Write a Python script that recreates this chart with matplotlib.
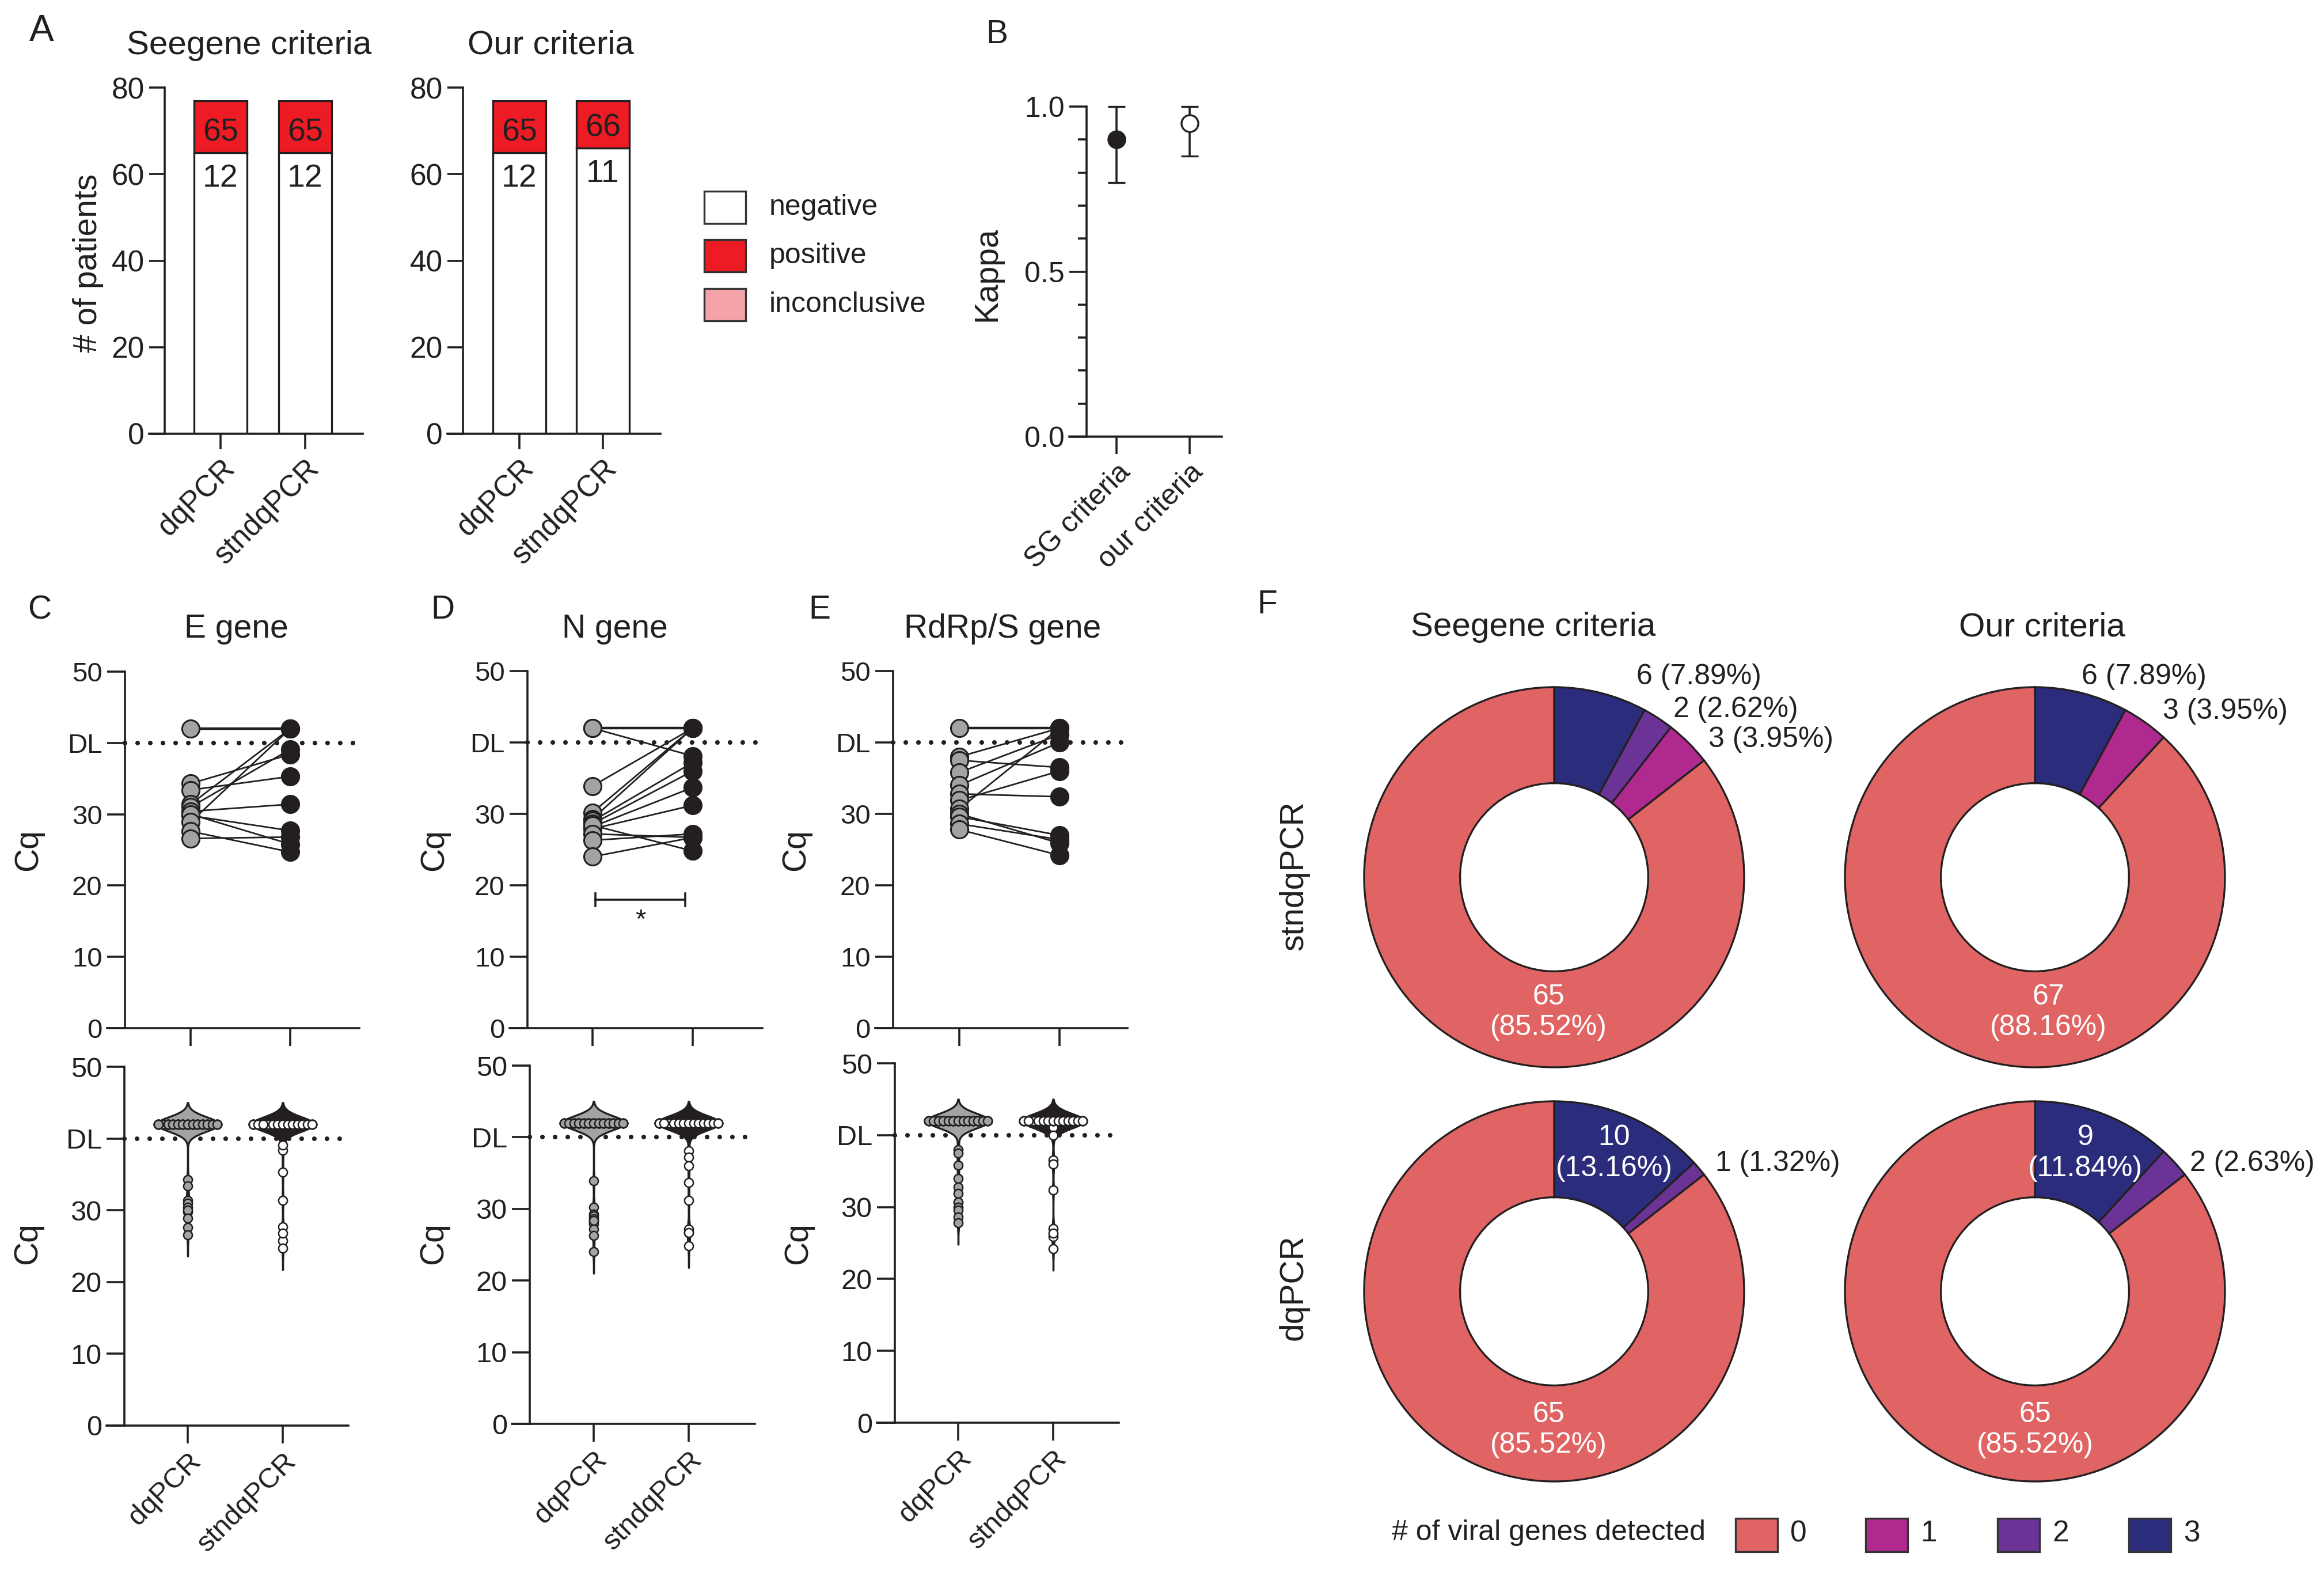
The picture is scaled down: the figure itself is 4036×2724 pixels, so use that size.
import numpy as np
import matplotlib.pyplot as plt
from matplotlib.patches import Rectangle
from matplotlib.ticker import MultipleLocator

plt.rcParams['font.family'] = ['Liberation Sans', 'DejaVu Sans']
INK = '#231F20'
plt.rcParams['text.color'] = INK
plt.rcParams['axes.edgecolor'] = INK
plt.rcParams['xtick.color'] = INK
plt.rcParams['ytick.color'] = INK

W, H = 4037, 2724
PT = 0.72  # points per pixel at dpi 100

# ---------------- data ----------------
methods = ['dqPCR', 'stndqPCR']
# panel A: height of white part and red part of each bar
sg_white = [65, 65]
sg_red = [12, 12]
our_white = [65, 66]
our_red = [12, 11]
result_labels = ['negative', 'positive', 'inconclusive']
result_colors = ['white', '#ED1C24', '#F4A3A8']

# panel B
kappa_groups = ['SG criteria', 'our criteria']
kappa = [0.90, 0.95]
kappa_lo = [0.77, 0.85]
kappa_hi = [1.00, 1.00]

# panels C-E: Cq per patient (42 = not detected, plotted above DL)
n_patients = 76
cq_dl = 40
cq_nd = 42
e_dq = [42, 34.3, 33.4, 31.4, 31.0, 30.4, 29.8, 30.0, 28.9, 27.6, 26.6]
e_st = [42, 38.4, 35.3, 42, 39.1, 31.4, 27.7, 25.8, 42, 24.7, 26.8]
n_dq = [42, 42, 33.9, 30.2, 29.3, 29.0, 28.6, 28.2, 27.9, 28.4, 27.2, 26.3, 24.0]
n_st = [42, 38.1, 42, 42, 42, 37.2, 36.0, 33.7, 31.2, 24.8, 26.7, 27.2, 26.7]
r_dq = [42, 38.0, 37.5, 35.8, 34.0, 32.8, 31.9, 30.7, 30.0, 29.6, 28.6, 27.8]
r_st = [42, 42, 36.5, 41.1, 40.0, 32.4, 36.0, 42, 25.9, 27.0, 26.4, 24.2]
gene_titles = ['E gene', 'N gene', 'RdRp/S gene']

# panel F: patients by number of viral genes detected (order 3, 2, 1, 0 genes)
gene_cats = ['3', '2', '1', '0']
gene_colors = ['#2B2D7C', '#6B3396', '#B0298F', '#E06464']
sg_st = [6, 2, 3, 65]
sg_st_pct = ['7.89', '2.62', '3.95', '85.52']
our_st = [6, 0, 3, 67]
our_st_pct = ['7.89', '', '3.95', '88.16']
sg_dq = [10, 1, 0, 65]
sg_dq_pct = ['13.16', '1.32', '', '85.52']
our_dq = [9, 2, 0, 65]
our_dq_pct = ['11.84', '2.63', '', '85.52']

fig = plt.figure(figsize=(W / 100, H / 100), dpi=100)


def px_axes(left, right, top, bottom):
    return fig.add_axes([left / W, 1 - bottom / H, (right - left) / W, (bottom - top) / H])


def gp_axes(spine_x, x_end, y_top, y_bot, tick0, tick1, ticklen, labelsize=35):
    ax = px_axes(spine_x - ticklen, x_end, y_top, y_bot)
    unit = tick1 - tick0
    ax.set_xlim((spine_x - ticklen - tick0) / unit, (x_end - tick0) / unit)
    ax.spines['left'].set_position(('data', (spine_x - tick0) / unit))
    ax.spines[['top', 'right']].set_visible(False)
    for s in ['left', 'bottom']:
        ax.spines[s].set_linewidth(2.6)
    ax.tick_params(width=2.6, length=ticklen * PT, labelsize=labelsize, pad=6)
    ax.set_xticks([0, 1])
    ax.patch.set_alpha(0)
    return ax, (spine_x - tick0) / unit


def ftext(x, y, s, **kw):
    fig.text(x / W, 1 - y / H, s, **kw)


def rot_labels(ax, labels):
    ax.set_xticklabels(labels, rotation=45, ha='right', rotation_mode='anchor')


# ---------------- panel A ----------------
for (sx, xe, t0, t1, white, red, title, tx) in [
        (286, 630, 383, 530, sg_white, sg_red, 'Seegene criteria', 433),
        (804, 1147, 902, 1047, our_white, our_red, 'Our criteria', 956)]:
    ax, _ = gp_axes(sx, xe, 152, 753, t0, t1, 27, labelsize=37)
    x = np.arange(len(methods))
    ax.bar(x, white, width=0.63, color='white', edgecolor=INK, lw=2.4)
    ax.bar(x, red, bottom=white, width=0.63, color=result_colors[1], edgecolor=INK, lw=2.4)
    for i in x:
        ax.text(i, white[i] + 4.6, str(white[i]), ha='center', va='center', fontsize=40)
        ax.text(i, white[i] - 6, str(red[i]), ha='center', va='center', fontsize=40)
    ax.set_ylim(0, 80)
    ax.set_yticks([0, 20, 40, 60, 80])
    rot_labels(ax, methods)
    ftext(tx, 79, title, ha='center', va='center', fontsize=42)

ftext(153, 457, '# of patients', rotation=90, ha='center', va='center', fontsize=41)
for i, (lab, col) in enumerate(zip(result_labels, result_colors)):
    yc = [360, 444, 529][i]
    fig.patches.append(Rectangle((1223 / W, 1 - (yc + 28) / H), 72 / W, 56 / H,
                                 transform=fig.transFigure, facecolor=col,
                                 edgecolor='#333333', lw=2.4))
    ftext(1336, yc, lab, ha='left', va='center', fontsize=36)

# ---------------- panel B ----------------
ax, _ = gp_axes(1887, 2122, 185, 758, 1939, 2066, 30, labelsize=36)
for i in range(len(kappa)):
    ax.errorbar(i, kappa[i], yerr=[[kappa[i] - kappa_lo[i]], [kappa_hi[i] - kappa[i]]],
                fmt='o', ms=21, mfc=INK if i == 0 else 'white', mec=INK, mew=2.4,
                ecolor=INK, elinewidth=2.6, capsize=11, capthick=2.6, clip_on=False, zorder=3)
ax.set_ylim(0, 1.0)
ax.set_yticks([0, 0.5, 1.0])
ax.set_yticklabels(['0.0', '0.5', '1.0'])
ax.yaxis.set_minor_locator(MultipleLocator(0.1))
ax.tick_params(axis='y', which='minor', length=15 * PT, width=2.6)
rot_labels(ax, kappa_groups)
ftext(1714, 476, 'Kappa', rotation=90, ha='center', va='center', fontsize=41)


# ---------------- panels C-E ----------------
def cq_axis(ax, spine_d, xmax):
    ax.set_ylim(0, 50)
    ax.set_yticks([0, 10, 20, 30, 40, 50])
    ax.set_yticklabels(['0', '10', '20', '30', 'DL', '50'])
    ax.plot([spine_d, xmax], [cq_dl, cq_dl], color=INK, lw=5.8, ls=(0, (0.01, 2.72)),
            dash_capstyle='round', clip_on=False, zorder=1)


def full(vals):
    low = [v for v in vals if v < cq_nd]
    return low + [cq_nd] * (n_patients - len(low))


def violin(ax, x, vals, face, dot_face):
    v = np.array(vals, float)
    h = 1.0
    ys = np.linspace(v.min() - 3 * h, v.max() + 3 * h, 800)
    dens = np.exp(-0.5 * ((ys[:, None] - v[None, :]) / h) ** 2).sum(1)
    half = dens / dens.max() * 0.33
    ax.fill_betweenx(ys, x - half, x + half, facecolor=face, edgecolor=INK, lw=2.4, zorder=2)
    low = v[v < cq_nd]
    ax.scatter(np.full(len(low), x), low, s=120, c=dot_face, edgecolors=INK, lw=1.8, zorder=3)
    n_top = int((v >= cq_nd).sum())
    offs = np.linspace(-0.31, 0.31, 13)
    ax.scatter(x + offs[np.arange(n_top) % 13], np.full(n_top, cq_nd), s=120, c=dot_face,
               edgecolors=INK, lw=1.8, zorder=3)


top_geo = [(217, 624, 1166, 1785, 331, 504), (916, 1324, 1165, 1785, 1029, 1203),
           (1551, 1958, 1165, 1785, 1666, 1840)]
bot_geo = [(216, 605, 1852, 2475, 326, 491), (920, 1311, 1850, 2472, 1031, 1196),
           (1554, 1943, 1846, 2470, 1664, 1829)]
title_x = [410, 1068, 1741]
cq_x_top = [49, 754, 1382]
cq_x_bot = [48, 753, 1386]
pairs = [(e_dq, e_st), (n_dq, n_st), (r_dq, r_st)]

for k in range(3):
    dq, st = pairs[k]
    sx, xe, yt, yb, t0, t1 = top_geo[k]
    ax, sd = gp_axes(sx, xe, yt, yb, t0, t1, 31, labelsize=34)
    cq_axis(ax, sd, ax.get_xlim()[1])
    for a, b in zip(dq, st):
        ax.plot([0, 1], [a, b], color=INK, lw=3.2 if a == b == cq_nd else 2.0, zorder=2)
    ax.scatter(np.zeros(len(dq)), dq, s=470, c='#A3A3A3', edgecolors=INK, lw=2.2, zorder=3)
    ax.scatter(np.ones(len(st)), st, s=470, c=INK, edgecolors=INK, lw=2.2, zorder=3)
    ax.set_xticklabels(['', ''])
    ftext(title_x[k], 1092, gene_titles[k], ha='center', va='center', fontsize=41)
    ftext(cq_x_top[k], 1476, 'Cq', rotation=90, ha='center', va='center', fontsize=41)
    if k == 1:
        ax.plot([0.03, 0.925], [18, 18], color=INK, lw=2.6)
        ax.plot([0.03, 0.03], [17.1, 18.9], color=INK, lw=2.6)
        ax.plot([0.925, 0.925], [17.1, 18.9], color=INK, lw=2.6)
        ax.text(0.48, 15.0, '*', ha='center', va='center', fontsize=34)

    sx, xe, yt, yb, t0, t1 = bot_geo[k]
    ax, sd = gp_axes(sx, xe, yt, yb, t0, t1, 31, labelsize=35)
    cq_axis(ax, sd, ax.get_xlim()[1])
    violin(ax, 0, full(dq), '#A3A3A3', '#A3A3A3')
    violin(ax, 1, full(st), INK, 'white')
    rot_labels(ax, methods)
    ftext(cq_x_bot[k], 2159, 'Cq', rotation=90, ha='center', va='center', fontsize=41)

# ---------------- panel F ----------------
R = 330


def donut(cx, cy, counts, pcts, spec):
    ax = px_axes(cx - R, cx + R, cy - R, cy + R)
    keep = [i for i, c in enumerate(counts) if c > 0]
    ax.pie([counts[i] for i in keep], colors=[gene_colors[i] for i in keep],
           startangle=90, counterclock=False, radius=1,
           wedgeprops=dict(width=0.505, edgecolor=INK, linewidth=2.4))
    ax.set_xlim(-1, 1)
    ax.set_ylim(-1, 1)
    ax.axis('off')
    for idx, dx, dy, inside in spec:
        if inside:
            ax.text(dx, dy, f'{counts[idx]}\n({pcts[idx]}%)', ha='center', va='center',
                    color='white', fontsize=36, linespacing=1.2, clip_on=False)
        else:
            ax.text(dx, dy, f'{counts[idx]} ({pcts[idx]}%)', ha='left', va='center',
                    fontsize=36, clip_on=False)


donut(2699, 1523, sg_st, sg_st_pct,
      [(0, 0.433, 1.055, False), (1, 0.627, 0.882, False), (2, 0.812, 0.724, False),
       (3, -0.03, -0.71, True)])
donut(3534, 1523, our_st, our_st_pct,
      [(0, 0.245, 1.055, False), (2, 0.674, 0.873, False), (3, 0.07, -0.71, True)])
donut(2699, 2242, sg_dq, sg_dq_pct,
      [(0, 0.315, 0.727, True), (1, 0.848, 0.673, False), (3, -0.03, -0.73, True)])
donut(3534, 2242, our_dq, our_dq_pct,
      [(0, 0.264, 0.727, True), (1, 0.815, 0.673, False), (3, 0.0, -0.73, True)])

ftext(2663, 1089, 'Seegene criteria', ha='center', va='center', fontsize=42)
ftext(3546, 1089, 'Our criteria', ha='center', va='center', fontsize=42)
ftext(2247, 1520, 'stndqPCR', rotation=90, ha='center', va='center', fontsize=41)
ftext(2247, 2235, 'dqPCR', rotation=90, ha='center', va='center', fontsize=41)

ftext(2417, 2661, '# of viral genes detected', ha='left', va='center', fontsize=36)
leg_order = [3, 2, 1, 0]  # index into gene_cats for 0, 1, 2, 3
leg_x = [3014, 3240, 3469, 3697]
for j, idx in enumerate(leg_order):
    fig.patches.append(Rectangle((leg_x[j] / W, 1 - 2694 / H), 73 / W, 58 / H,
                                 transform=fig.transFigure, facecolor=gene_colors[idx],
                                 edgecolor='#333333', lw=2.4))
    ftext(leg_x[j] + 95, 2663, gene_cats[idx], ha='left', va='center', fontsize=37)

# ---------------- panel letters ----------------
ftext(51, 24, 'A', ha='left', va='top', fontsize=46)
for lab, x, y in [('B', 1712, 33), ('C', 48, 1032), ('D', 748, 1032), ('E', 1404, 1032),
                  ('F', 2183, 1023)]:
    ftext(x, y, lab, ha='left', va='top', fontsize=41)

fig.savefig('out.png', dpi=100)
